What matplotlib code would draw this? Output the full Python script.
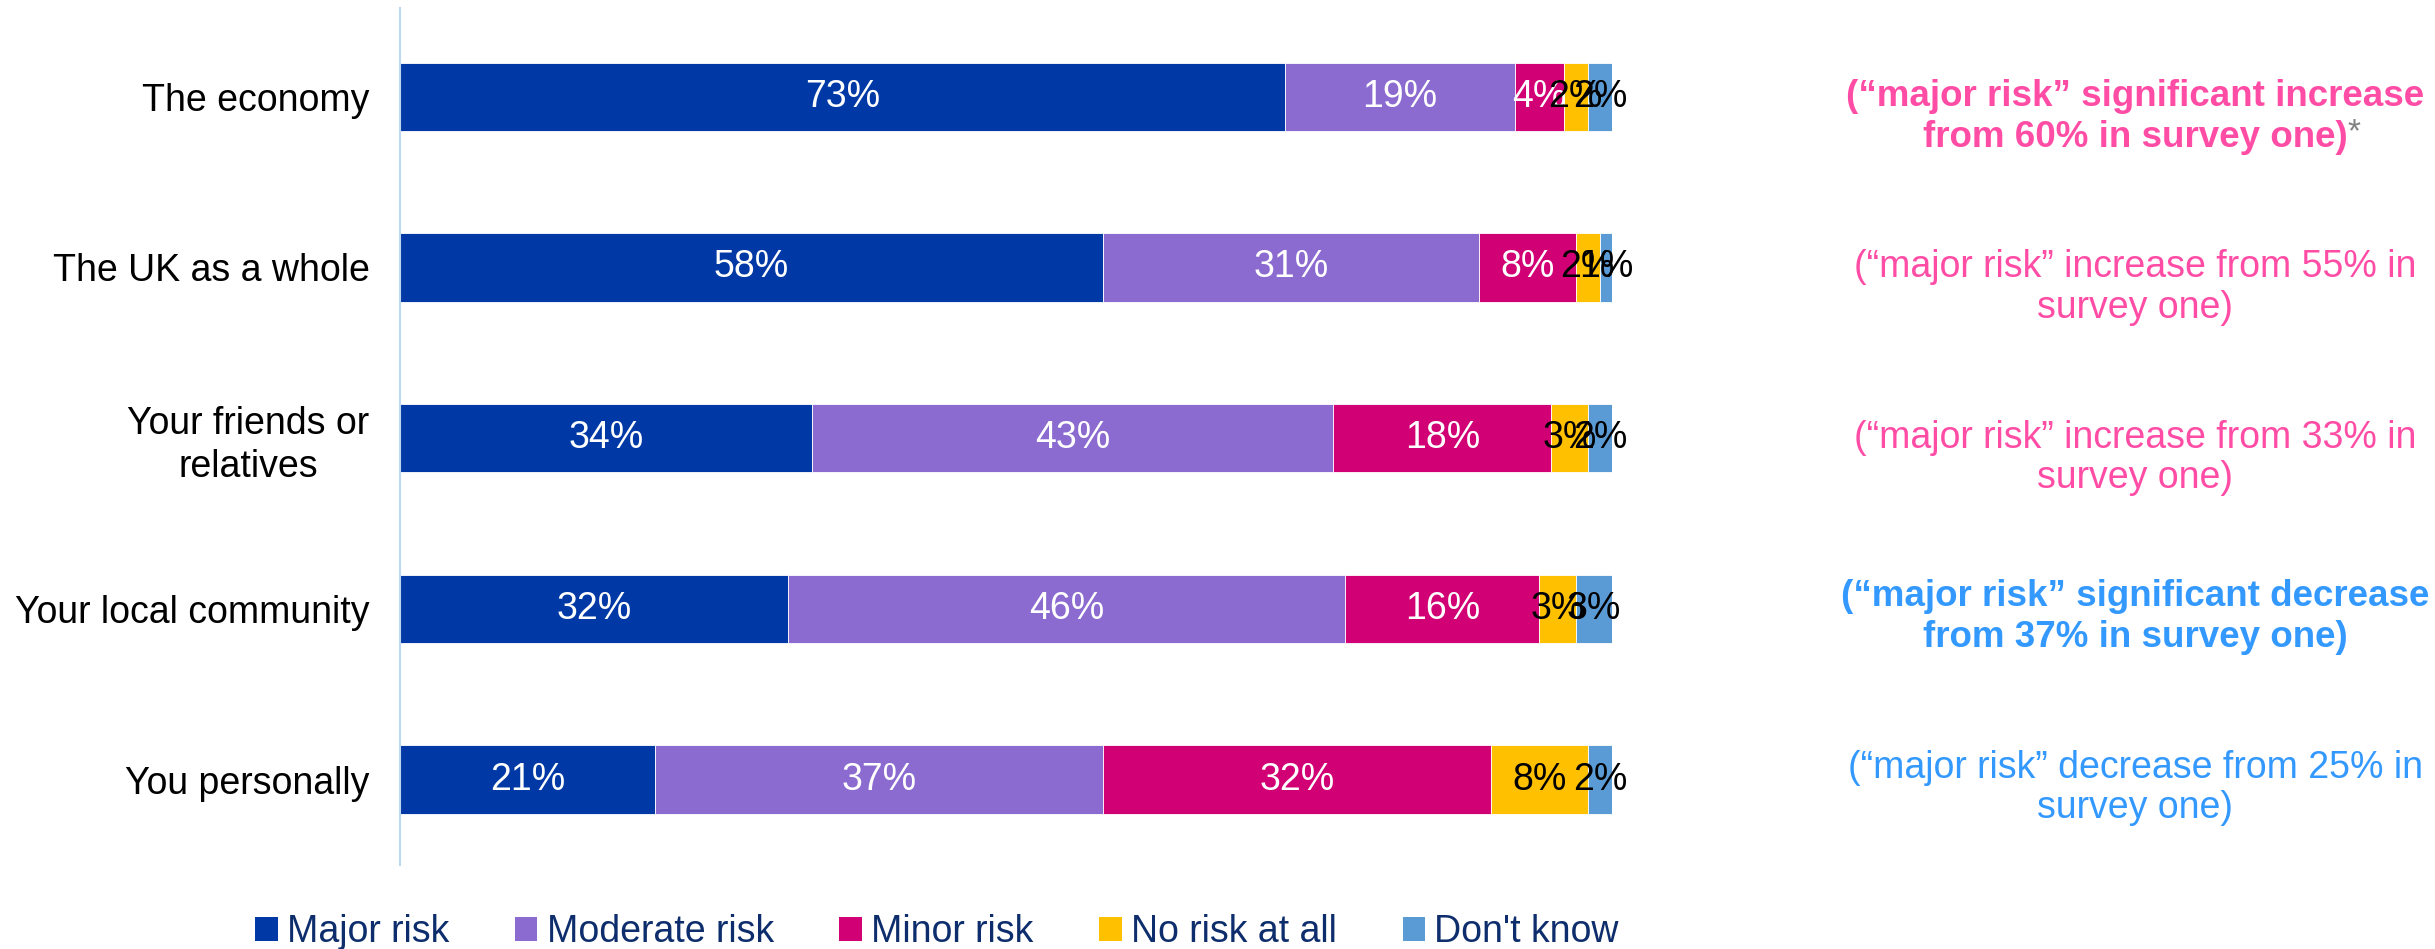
import matplotlib
matplotlib.use("Agg")
import matplotlib.pyplot as plt
from matplotlib.transforms import blended_transform_factory
from matplotlib.patches import Patch

plt.rcParams['font.family'] = ['Liberation Sans', 'DejaVu Sans']

categories = ["The economy", "The UK as a whole", "Your friends or\nrelatives",
              "Your local community", "You personally"]
series_names = ["Major risk", "Moderate risk", "Minor risk", "No risk at all", "Don't know"]
major = [73, 58, 34, 32, 21]
moderate = [19, 31, 43, 46, 37]
minor = [4, 8, 18, 16, 32]
no_risk = [2, 2, 3, 3, 8]
dont_know = [2, 1, 2, 3, 2]
series = [major, moderate, minor, no_risk, dont_know]
colors = ["#0039A6", "#8C6BD1", "#D10074", "#FFC000", "#5B9BD5"]
label_colors = ["white", "white", "white", "black", "black"]

notes = [
    ("(\u201cmajor risk\u201d significant increase", "from 60% in survey one)", "bold", "#FF4DA6", True),
    ("(\u201cmajor risk\u201d increase from 55% in", "survey one)", "normal", "#FF4DA6", False),
    ("(\u201cmajor risk\u201d increase from 33% in", "survey one)", "normal", "#FF4DA6", False),
    ("(\u201cmajor risk\u201d significant decrease", "from 37% in survey one)", "bold", "#3399FF", False),
    ("(\u201cmajor risk\u201d decrease from 25% in", "survey one)", "normal", "#3399FF", False),
]

fig = plt.figure(figsize=(24.35, 9.49), dpi=100)
ax = fig.add_axes([400/2435, 1-865/949, 1212/2435, 857/949])

y = list(range(len(categories)))
left = [0]*len(categories)
for vals, c, lc in zip(series, colors, label_colors):
    bars = ax.barh(y, vals, left=left, height=0.4, color=c, edgecolor='white', linewidth=0.6)
    for b, v in zip(bars, vals):
        ax.text(b.get_x() + b.get_width()/2, b.get_y() + b.get_height()/2, f"{v}%",
                ha='center', va='center', color=lc, fontsize=27)
    left = [l + v for l, v in zip(left, vals)]

ax.set_xlim(0, 100)
ax.set_ylim(4.5, -0.52)
ax.set_yticks(y)
ax.set_yticklabels(categories, fontsize=27, color='black', linespacing=1.25,
                   multialignment='center')
ax.tick_params(axis='y', length=0, pad=22)
ax.set_xticks([])
for s in ['top', 'right', 'bottom']:
    ax.spines[s].set_visible(False)
ax.spines['left'].set_color('#BDD7EE')
ax.spines['left'].set_linewidth(1.5)

tr = blended_transform_factory(fig.transFigure, ax.transData)
xc = 2135/2435
for i, (l1, l2, w, c, star) in enumerate(notes):
    off = 0.0 if i < 3 else -0.07
    fs = 26.5 if w == 'bold' else 27
    ax.text(xc, i + off, l1, transform=tr, ha='center', va='center', fontsize=fs,
            fontweight=w, color=c)
    t2 = ax.text(xc, i + off + 0.236, l2, transform=tr, ha='center', va='center',
                 fontsize=fs, fontweight=w, color=c)
    if star:
        ax.annotate("*", xy=(1.0, 0.62), xycoords=t2, ha='left', va='center',
                    fontsize=24, color='#808080')

handles = [Patch(facecolor=c, edgecolor='none') for c in colors]
fig.legend(handles, series_names, loc='center', bbox_to_anchor=(937/2435, 1-932/949),
           ncol=5, frameon=False, fontsize=27, labelcolor='#0D2D6C',
           handlelength=0.6, handleheight=0.6, handletextpad=0.25, columnspacing=1.75)

fig.savefig("out.png", dpi=100)
